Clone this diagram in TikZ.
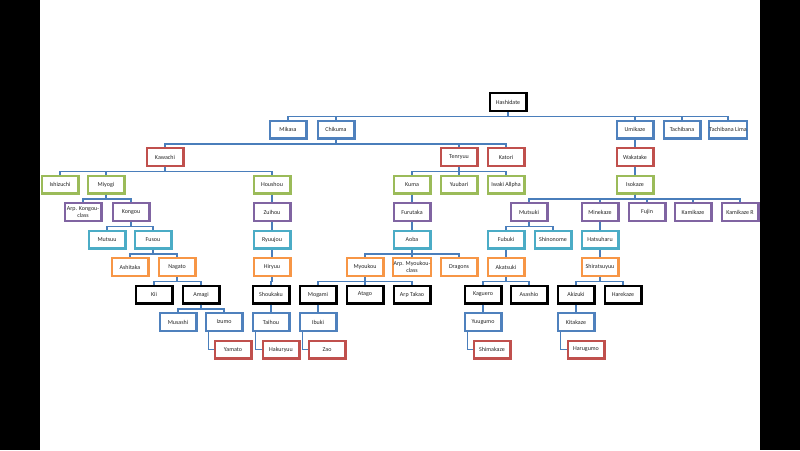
\documentclass[tikz,border=0pt]{standalone}
\usepackage{fontspec}
\setmainfont{Carlito}
\definecolor{cblue}{HTML}{4F81BD}
\definecolor{cred}{HTML}{C0504D}
\definecolor{cgreen}{HTML}{9BBB59}
\definecolor{cpurple}{HTML}{8064A2}
\definecolor{caqua}{HTML}{4BACC6}
\definecolor{corange}{HTML}{F79646}
\definecolor{cline}{HTML}{4A7EBB}
\tikzset{
  box/.style={draw, line width=2.4pt, minimum width=36.6pt, minimum height=17.6pt, inner sep=0.5pt,
    font=\fontsize{6}{6.8}\selectfont, align=center, fill=white, text=black!85},
  kblack/.style={box, draw=black},
  kblue/.style={box, draw=cblue},
  kred/.style={box, draw=cred},
  kgreen/.style={box, draw=cgreen},
  kpurple/.style={box, draw=cpurple},
  kaqua/.style={box, draw=caqua},
  korange/.style={box, draw=corange},
  conn/.style={draw=cline, line width=1.5pt},
}
\newcommand\kcon[2]{\draw[conn] (#1.south) -- ++(0,4.5) -| (#2.north);}
\newcommand\kelb[2]{\draw[conn] ([xshift=4pt]#1.south west) |- (#2.west);}
\begin{document}
\begin{tikzpicture}[x=1pt,y=-1pt]
\useasboundingbox (0,0) rectangle (800,450);
\fill[white] (0,0) rectangle (800,450);
\fill[black] (0,0) rectangle (40,450);
\fill[black] (760,0) rectangle (800,450);
% row 0
\node[kblack] (hashidate) at (508,102) {Hashidate};
% row 1
\node[kblue] (mikasa) at (288,129.5) {Mikasa};
\node[kblue] (chikuma) at (336,129.5) {Chikuma};
\node[kblue] (umikaze) at (635,129.5) {Umikaze};
\node[kblue] (tachibana) at (682,129.5) {Tachibana};
\node[kblue] (tlima) at (728,129.5) {Tachibana Lima};
% row 2
\node[kred] (kawachi) at (165,157) {Kawachi};
\node[kred] (tenryuu) at (459,157) {Tenryuu};
\node[kred] (katori) at (506,157) {Katori};
\node[kred] (wakatake) at (635,157) {Wakatake};
% row 3
\node[kgreen] (ishizuchi) at (60,184.5) {Ishizuchi};
\node[kgreen] (miyogi) at (106,184.5) {Miyogi};
\node[kgreen] (houshou) at (272,184.5) {Houshou};
\node[kgreen] (kuma) at (412,184.5) {Kuma};
\node[kgreen] (yuubari) at (459,184.5) {Yuubari};
\node[kgreen] (iwaki) at (506,184.5) {Iwaki Allpha};
\node[kgreen] (isokaze) at (635,184.5) {Isokaze};
% row 4
\node[kpurple] (arpkongou) at (83,212) {Arp. Kongou-\\class};
\node[kpurple] (kongou) at (131,212) {Kongou};
\node[kpurple] (zuihou) at (272,212) {Zuihou};
\node[kpurple] (furutaka) at (412,212) {Furutaka};
\node[kpurple] (mutsuki) at (529,212) {Mutsuki};
\node[kpurple] (minekaze) at (600,212) {Minekaze};
\node[kpurple] (fujin) at (647,212) {Fujin};
\node[kpurple] (kamikaze) at (693,212) {Kamikaze};
\node[kpurple] (kamikazer) at (740,212) {Kamikaze R};
% row 5
\node[kaqua] (mutsuu) at (107,239.5) {Mutsuu};
\node[kaqua] (fusou) at (153,239.5) {Fusou};
\node[kaqua] (ryuujou) at (272,239.5) {Ryuujou};
\node[kaqua] (aoba) at (412,239.5) {Aoba};
\node[kaqua] (fubuki) at (506,239.5) {Fubuki};
\node[kaqua] (shinonome) at (553,239.5) {Shinonome};
\node[kaqua] (hatsuharu) at (600,239.5) {Hatsuharu};
% row 6
\node[korange] (ashitaka) at (130,267) {Ashitaka};
\node[korange] (nagato) at (177,267) {Nagato};
\node[korange] (hiryuu) at (272,267) {Hiryuu};
\node[korange] (myoukou) at (365,267) {Myoukou};
\node[korange] (arpmyoukou) at (412,267) {Arp. Myoukou-\\class};
\node[korange] (dragons) at (459,267) {Dragons};
\node[korange] (akatsuki) at (506,267) {Akatsuki};
\node[korange] (shiratsuyuu) at (600,267) {Shiratsuyuu};
% row 7
\node[kblack] (kii) at (154,294.5) {Kii};
\node[kblack] (amagi) at (201,294.5) {Amagi};
\node[kblack] (shoukaku) at (271,294.5) {Shoukaku};
\node[kblack] (mogami) at (318,294.5) {Mogami};
\node[kblack] (atago) at (365,294.5) {Atago};
\node[kblack] (arptakao) at (412,294.5) {Arp Takao};
\node[kblack] (kaguero) at (483,294.5) {Kaguero};
\node[kblack] (asashio) at (529,294.5) {Asashio};
\node[kblack] (akizuki) at (576,294.5) {Akizuki};
\node[kblack] (harekaze) at (623,294.5) {Harekaze};
% row 8
\node[kblue] (musashi) at (178,322) {Musashi};
\node[kblue] (izumo) at (224,322) {Izumo};
\node[kblue] (taihou) at (271,322) {Taihou};
\node[kblue] (ibuki) at (318,322) {Ibuki};
\node[kblue] (yuugumo) at (483,322) {Yuugumo};
\node[kblue] (kitakaze) at (576,322) {Kitakaze};
% row 9
\node[kred] (yamato) at (233,349.5) {Yamato};
\node[kred] (hakuryuu) at (281,349.5) {Hakuryuu};
\node[kred] (zao) at (327,349.5) {Zao};
\node[kred] (shimakaze) at (492,349.5) {Shimakaze};
\node[kred] (harugumo) at (586,349.5) {Harugumo};
% connectors
\foreach \c in {mikasa,chikuma,umikaze,tachibana,tlima} {\kcon{hashidate}{\c}}
\foreach \c in {kawachi,tenryuu,katori} {\kcon{chikuma}{\c}}
\kcon{umikaze}{wakatake}
\foreach \c in {ishizuchi,miyogi,houshou} {\kcon{kawachi}{\c}}
\foreach \c in {kuma,yuubari,iwaki} {\kcon{tenryuu}{\c}}
\kcon{wakatake}{isokaze}
\foreach \c in {arpkongou,kongou} {\kcon{miyogi}{\c}}
\kcon{houshou}{zuihou}
\kcon{kuma}{furutaka}
\foreach \c in {mutsuki,minekaze,fujin,kamikaze,kamikazer} {\kcon{isokaze}{\c}}
\foreach \c in {mutsuu,fusou} {\kcon{kongou}{\c}}
\kcon{zuihou}{ryuujou}
\kcon{furutaka}{aoba}
\foreach \c in {fubuki,shinonome} {\kcon{mutsuki}{\c}}
\kcon{minekaze}{hatsuharu}
\foreach \c in {ashitaka,nagato} {\kcon{fusou}{\c}}
\kcon{ryuujou}{hiryuu}
\foreach \c in {myoukou,arpmyoukou,dragons} {\kcon{aoba}{\c}}
\kcon{fubuki}{akatsuki}
\kcon{hatsuharu}{shiratsuyuu}
\foreach \c in {kii,amagi} {\kcon{nagato}{\c}}
\kcon{hiryuu}{shoukaku}
\foreach \c in {mogami,atago,arptakao} {\kcon{myoukou}{\c}}
\foreach \c in {kaguero,asashio} {\kcon{akatsuki}{\c}}
\foreach \c in {akizuki,harekaze} {\kcon{shiratsuyuu}{\c}}
\foreach \c in {musashi,izumo} {\kcon{amagi}{\c}}
\kcon{shoukaku}{taihou}
\kcon{mogami}{ibuki}
\kcon{kaguero}{yuugumo}
\kcon{akizuki}{kitakaze}
\kelb{izumo}{yamato}
\kelb{taihou}{hakuryuu}
\kelb{ibuki}{zao}
\kelb{yuugumo}{shimakaze}
\kelb{kitakaze}{harugumo}
\end{tikzpicture}
\end{document}
